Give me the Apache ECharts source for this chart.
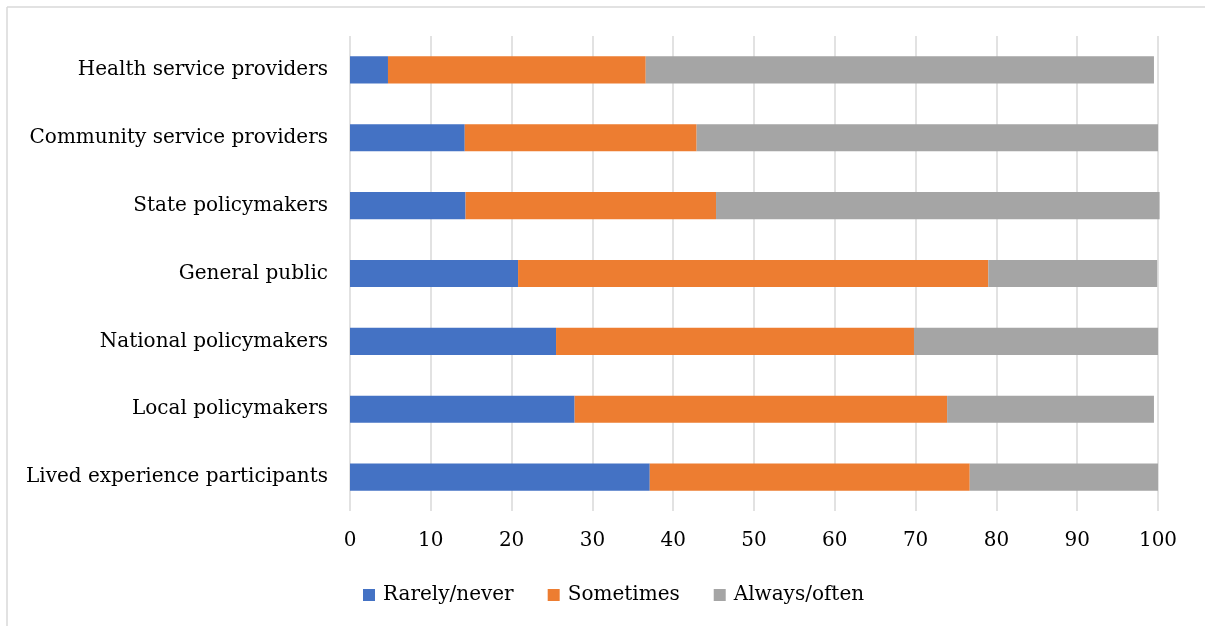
<!DOCTYPE html>
<html>
<head>
<meta charset="utf-8">
<script src="https://cdn.jsdelivr.net/npm/echarts@6/dist/echarts.min.js"></script>
<style>
html,body{margin:0;padding:0;background:#fff;}
#chart{width:1205px;height:626px;}
</style>
</head>
<body>
<div id="chart"></div>
<script>
const categories = ["Lived experience participants","Local policymakers","National policymakers","General public","State policymakers","Community service providers","Health service providers"];
const rarelyNever = [37.1, 27.8, 25.5, 20.8, 14.3, 14.2, 4.7];
const sometimes = [39.6, 46.1, 44.3, 58.2, 31.0, 28.7, 31.9];
const alwaysOften = [23.3, 25.6, 30.2, 20.9, 54.9, 57.1, 62.9];
const xTicks = [0,10,20,30,40,50,60,70,80,90,100];

const FONT = "DejaVu Serif";
const chart = echarts.init(document.getElementById('chart'), null, {renderer:'canvas'});
function bar(name, data, color){
  return {name, type:'bar', stack:'total', data, barWidth:'40%', clip:false,
    itemStyle:{color}, emphasis:{disabled:true}};
}
chart.setOption({
  animation:false,
  backgroundColor:'#fff',
  textStyle:{fontFamily:FONT},
  grid:{left:350, right:47, top:36, bottom:115, containLabel:false},
  xAxis:{type:'value', min:0, max:100, interval:10,
    axisLine:{show:false}, axisTick:{show:false},
    splitLine:{show:true, lineStyle:{color:'#d9d9d9', width:1.5}},
    axisLabel:{color:'#000', fontSize:20, fontFamily:FONT, margin:20,
      formatter:v=> xTicks.includes(v)? String(v):''}},
  yAxis:{type:'category', data:categories,
    axisLine:{show:false}, axisTick:{show:false},
    axisLabel:{color:'#000', fontSize:20, fontFamily:FONT, margin:22}},
  legend:{bottom:16, left:358, itemWidth:12, itemHeight:12, itemGap:34,
    icon:'rect', textStyle:{color:'#000', fontSize:20, fontFamily:FONT, padding:[0,0,0,3]},
    data:['Rarely/never','Sometimes','Always/often']},
  graphic:[
    {type:'line', shape:{x1:7,y1:7,x2:1205,y2:7}, style:{stroke:'#d9d9d9', lineWidth:1.5}},
    {type:'line', shape:{x1:7,y1:7,x2:7,y2:626}, style:{stroke:'#d9d9d9', lineWidth:1.5}}
  ],
  series:[
    bar('Rarely/never', rarelyNever, '#4472c4'),
    bar('Sometimes', sometimes, '#ed7d31'),
    bar('Always/often', alwaysOften, '#a5a5a5')
  ]
});
</script>
</body>
</html>
